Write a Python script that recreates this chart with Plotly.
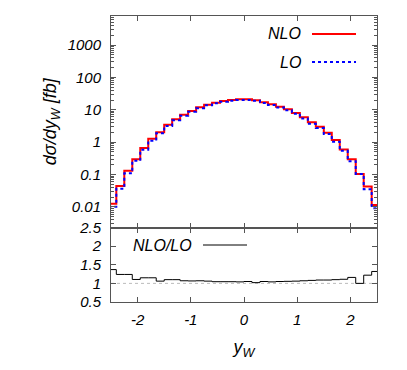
import plotly.graph_objects as go

# bin edges of y_W (width 0.15)
bin_edges = [-2.55, -2.4, -2.25, -2.1, -1.95, -1.8, -1.65, -1.5, -1.35, -1.2, -1.05, -0.9,
             -0.75, -0.6, -0.45, -0.3, -0.15, 0.0, 0.15, 0.3, 0.45, 0.6, 0.75, 0.9,
             1.05, 1.2, 1.35, 1.5, 1.65, 1.8, 1.95, 2.1, 2.25, 2.4, 2.55]

nlo = [0.0126, 0.0445, 0.132, 0.296, 0.66, 1.28, 2.02, 3.47, 5.08, 7.08, 9.2, 11.9,
       14.4, 16.6, 18.7, 20.0, 21.0, 21.0, 19.6, 17.1, 14.8, 12.5, 10.4, 7.9,
       5.9, 4.1, 3.0, 1.96, 1.17, 0.60, 0.30, 0.105, 0.043, 0.0115]

lo = [0.0102, 0.0367, 0.11, 0.268, 0.587, 1.11, 1.88, 3.16, 4.74, 6.58, 8.7, 11.1,
      13.8, 15.9, 17.8, 19.1, 20.0, 20.0, 19.0, 16.3, 14.0, 11.8, 9.6, 7.5,
      5.4, 3.7, 2.75, 1.79, 1.04, 0.54, 0.26, 0.105, 0.0355, 0.0091]

ratio = [1.37, 1.24, 1.24, 1.105, 1.15, 1.15, 1.06, 1.10, 1.10, 1.07, 1.065, 1.07,
         1.06, 1.045, 1.045, 1.045, 1.04, 1.05, 1.02, 1.05, 1.04, 1.05, 1.055, 1.06,
         1.07, 1.08, 1.09, 1.09, 1.10, 1.11, 1.16, 1.00, 1.22, 1.32]

x_ticks = [-2, -1, 0, 1, 2]
x_ticklabels = ['-2', '-1', '0', '1', '2']
y_ticks = [0.01, 0.1, 1, 10, 100, 1000]
y_ticklabels = ['0.01', '0.1', '1', '10', '100', '1000']
r_ticks = [0.5, 1, 1.5, 2, 2.5]
r_ticklabels = ['0.5', '1', '1.5', '2', '2.5']

FONT = dict(family='Liberation Sans, Arial, sans-serif', size=15, color='black', style='italic')
AX = '#555555'

# the page body adds an 8px offset, so the figure is drawn 8px smaller
OFF = 8
W, H = 407 - OFF, 370 - OFF
ML, MR, MT, MB = 111 - OFF, 30, 16 - OFF, 68
PH = H - MT - MB
PW = W - ML - MR


def steps(vals):
    return list(vals) + [vals[-1]]


def px_y(y):
    # window pixel row -> paper fraction
    return 1 - (y - OFF - MT) / PH


def px_x(x):
    return (x - OFF - ML) / PW


fig = go.Figure()
fig.add_trace(go.Scatter(x=bin_edges, y=steps(nlo), mode='lines', line_shape='hv',
                         line=dict(color='#ff0000', width=2), xaxis='x', yaxis='y', showlegend=False))
fig.add_trace(go.Scatter(x=bin_edges, y=steps(lo), mode='lines', line_shape='hv',
                         line=dict(color='#0000ff', width=2, dash='dot'), xaxis='x', yaxis='y', showlegend=False))
fig.add_trace(go.Scatter(x=bin_edges, y=steps(ratio), mode='lines', line_shape='hv',
                         line=dict(color='black', width=1), xaxis='x2', yaxis='y2', showlegend=False))

# reference line at ratio 1
fig.add_shape(type='line', xref='x2 domain', yref='y2', x0=0, x1=1, y0=1, y1=1,
              line=dict(color='#bbbbbb', width=1, dash='dot'), layer='below')

# legend samples
fig.add_shape(type='line', xref='paper', yref='paper', x0=px_x(312), x1=px_x(356), y0=px_y(34), y1=px_y(34),
              line=dict(color='#ff0000', width=2))
fig.add_shape(type='line', xref='paper', yref='paper', x0=px_x(312), x1=px_x(356), y0=px_y(62), y1=px_y(62),
              line=dict(color='#0000ff', width=2, dash='dot'))
fig.add_shape(type='line', xref='paper', yref='paper', x0=px_x(203), x1=px_x(247), y0=px_y(245), y1=px_y(245),
              line=dict(color='black', width=1))
fig.add_annotation(text='NLO', xref='paper', yref='paper', x=px_x(303), y=px_y(34), xanchor='right',
                   yanchor='middle', showarrow=False, font=dict(FONT, size=16))
fig.add_annotation(text='LO', xref='paper', yref='paper', x=px_x(303), y=px_y(62), xanchor='right',
                   yanchor='middle', showarrow=False, font=dict(FONT, size=16))
fig.add_annotation(text='NLO/LO', xref='paper', yref='paper', x=px_x(194), y=px_y(245), xanchor='right',
                   yanchor='middle', showarrow=False, font=dict(FONT, size=16))

common_x = dict(range=[-2.5, 2.5], showline=True, mirror='allticks', linecolor=AX, linewidth=1,
                ticks='inside', ticklen=5, tickcolor=AX, tickvals=x_ticks, ticktext=x_ticklabels,
                showgrid=False, zeroline=False, automargin=False)
common_y = dict(showline=True, mirror='allticks', linecolor=AX, linewidth=1, ticks='inside',
                ticklen=5, tickcolor=AX, showgrid=False, zeroline=False, ticklabelstandoff=6,
                automargin=False)

split = 74.5 / PH

fig.update_layout(
    width=W, height=H,
    margin=dict(l=ML, r=MR, t=MT, b=MB),
    paper_bgcolor='white', plot_bgcolor='white',
    font=FONT,
    xaxis=dict(common_x, anchor='y', matches='x2', showticklabels=False),
    yaxis=dict(common_y, type='log', domain=[split, 1], range=[-2.633, 3.895], anchor='x',
               tickvals=y_ticks, ticktext=y_ticklabels,
               minor=dict(ticks='inside', ticklen=3, tickcolor=AX, dtick='D1'),
               title=dict(text='dσ/dy<sub>W</sub> [fb]', standoff=6)),
    xaxis2=dict(common_x, anchor='y2', ticklabelstandoff=4,
                title=dict(text='y<sub>W</sub>', standoff=13)),
    yaxis2=dict(common_y, domain=[0, split], range=[0.5, 2.5], anchor='x2',
                tickvals=r_ticks, ticktext=r_ticklabels),
)

fig.write_html('out.html')
